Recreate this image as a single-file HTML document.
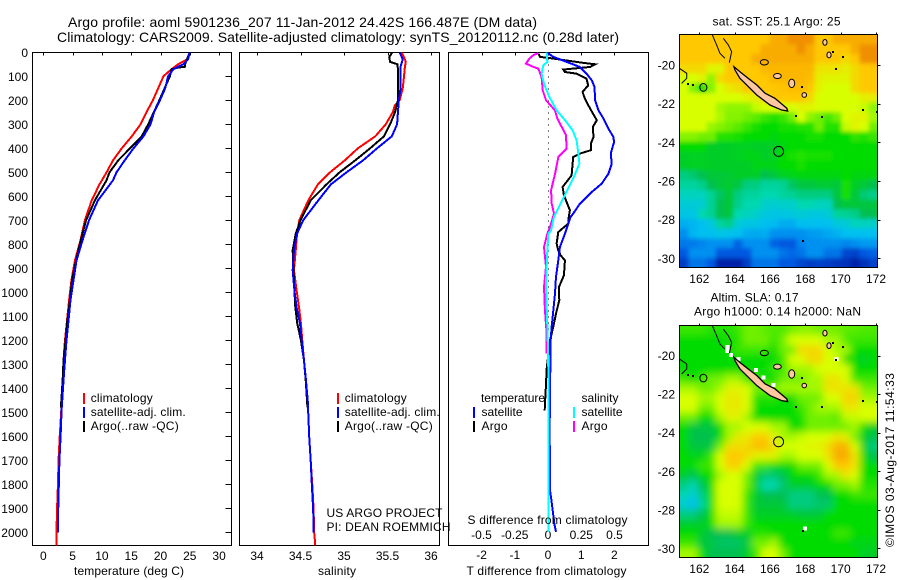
<!DOCTYPE html>
<html>
<head>
<meta charset="utf-8">
<title>Argo profile</title>
<style>
html,body{margin:0;padding:0;background:#fff;}
svg{display:block;}
text{font-family:"Liberation Sans",sans-serif;font-size:12px;fill:#000;}
</style>
</head>
<body>
<svg id="chart" xmlns="http://www.w3.org/2000/svg" width="900" height="580" viewBox="0 0 900 580">
<defs>
<filter id="sst-blur" x="-10%" y="-10%" width="120%" height="120%"><feGaussianBlur stdDeviation="2"/></filter>
<filter id="sla-blur" x="-10%" y="-10%" width="120%" height="120%"><feGaussianBlur stdDeviation="4"/></filter>
</defs>
<text class="static" x="68" y="27" style="font-size:14px" textLength="469" lengthAdjust="spacing">Argo profile: aoml 5901236_207 11-Jan-2012 24.42S 166.487E (DM data)</text>
<text class="static" x="57" y="42" style="font-size:14px" textLength="562" lengthAdjust="spacing">Climatology: CARS2009. Satellite-adjusted climatology: synTS_20120112.nc (0.28d later)</text>
<text class="static" x="74" y="575" textLength="110" lengthAdjust="spacing">temperature (deg C)</text>
<text class="static" x="318" y="575" textLength="38" lengthAdjust="spacing">salinity</text>
<text class="static" x="467.5" y="524" textLength="160" lengthAdjust="spacing">S difference from climatology</text>
<text class="static" x="466.5" y="575" textLength="160" lengthAdjust="spacing">T difference from climatology</text>
<text class="static" x="326.5" y="517" textLength="116" lengthAdjust="spacing">US ARGO PROJECT</text>
<text class="static" x="326.5" y="531" textLength="124" lengthAdjust="spacing">PI: DEAN ROEMMICH</text>
<text class="static" x="712.5" y="25.5" textLength="128" lengthAdjust="spacing">sat. SST: 25.1  Argo: 25</text>
<text class="static" x="710.5" y="301.5" textLength="88" lengthAdjust="spacing">Altim. SLA: 0.17</text>
<text class="static" x="694" y="315.5" textLength="167" lengthAdjust="spacing">Argo h1000: 0.14 h2000: NaN</text>
<text class="static" transform="translate(894 547) rotate(-90)" textLength="174" lengthAdjust="spacing">©IMOS 03-Aug-2017 11:54:33</text>
</svg>
<script>
/* ---------- profile data ---------- */
const depthTicks = [0,100,200,300,400,500,600,700,800,900,1000,1100,1200,1300,1400,1500,1600,1700,1800,1900,2000];
const tempTicks = [0,5,10,15,20,25,30];
const salTicks = [34,34.5,35,35.5,36];
const tDiffTicks = [-2,-1,0,1,2];
const sDiffTicks = [-0.5,-0.25,0,0.25,0.5];
const sDiffTickLabels = ["-0.5","-0.25","0","0.25","0.5"];

const climDepth = [0,30,50,70,100,150,200,250,300,350,400,450,500,550,617,700,783,867,950,1033,1117,1200,1283,1367,1500,1600,1700,1800,1900,2000,2054];
const climTemp = [25,24.5,23,21.9,20.5,19.6,18.7,17.6,16.6,15.1,13.4,11.9,10.8,9.6,8.25,7.1,6.35,5.4,4.8,4.4,4.05,3.7,3.45,3.3,3.05,2.8,2.6,2.5,2.35,2.25,2.25];
const satDepth = [0,30,50,70,100,150,200,250,300,350,400,450,500,533,617,700,783,867,950,1033,1117,1200,1283,1367,1500,1600,1700,1800,1900,2000];
const satTemp = [25,24.7,23.9,22.2,21.3,20.8,19.9,18.9,18.3,17.1,15.4,13.9,12.5,11.9,9.33,7.8,6.7,5.67,5.15,4.64,4.3,3.96,3.7,3.45,3.1,2.95,2.75,2.65,2.55,2.5];
const argoTempDepth = [0,30,50,60,65,70,100,200,300,350,400,450,500,533,617,700,783,867,950,1033,1117,1200,1283,1367,1480];
const argoTemp = [25,24.5,24.2,24.2,22.75,21.9,21.6,19.8,17.9,16.8,14.8,12.8,11.3,10.8,8.8,7.3,6.4,5.6,4.9,4.55,4.1,3.8,3.45,3.3,3];

const climSalDepth = [0,20,40,60,100,150,200,220,250,300,350,400,450,500,550,617,700,756,825,908,992,1062,1130,1200,1283,1367,1450,1600,1700,1800,1900,2000,2054];
const climSal = [35.66,35.69,35.71,35.7,35.69,35.675,35.64,35.586,35.56,35.48,35.36,35.16,35.01,34.84,34.7,34.59,34.486,34.46,34.445,34.425,34.455,34.483,34.505,34.52,34.54,34.563,34.583,34.6,34.617,34.635,34.65,34.657,34.67];
const satSalDepth = [0,30,60,100,150,200,250,300,350,400,450,500,550,617,700,756,825,908,992,1062,1130,1200,1283,1367,1450,1600,1700,1800,1900,2000];
const satSal = [35.64,35.675,35.65,35.65,35.65,35.63,35.62,35.61,35.55,35.38,35.22,35.03,34.85,34.705,34.53,34.46,34.425,34.41,34.43,34.455,34.494,34.514,34.54,34.563,34.583,34.6,34.617,34.63,34.645,34.652];
const argoSalDepth = [0,20,40,50,100,200,250,300,350,400,450,500,550,617,700,756,825,908,992,1062,1130,1200,1283,1367,1480];
const argoSal = [35.555,35.52,35.53,35.617,35.62,35.62,35.586,35.53,35.46,35.3,35.13,34.95,34.8,34.617,34.5,34.445,34.41,34.42,34.43,34.44,34.463,34.505,34.54,34.56,34.58];

const dtArgoDepth = [6,19,26,44,50,61,72,82,89,110,138,165,193,235,283,311,353,381,408,422,436,513,561,596,658,700,714,749,797,825,846,867,929,978,1033,1089,1144,1200,1318,1381,1492];
const dtArgo = [-0.29,-0.24,0.16,1.06,1.42,1.27,0.46,0.51,0.86,1.16,1.21,1.04,1.11,1.27,1.47,1.35,1.37,1.29,1.29,0.96,0.76,0.71,0.44,0.48,0.66,0.61,0.61,0.31,0.26,0.31,0.38,0.51,0.48,0.33,0.34,0.24,0.16,0.06,-0.04,-0.06,-0.1];
const dtSatDepth = [0,19,40,61,89,117,144,200,242,276,318,353,374,422,464,506,547,582,631,672,686,756,811,867,936,1006,1075,1144,1200,1311,1561,1825,1853,1908,1963,1998];
const dtSat = [-0.04,0.16,0.56,0.96,1.16,1.32,1.4,1.42,1.52,1.67,1.82,1.97,1.99,1.89,1.92,1.82,1.62,1.32,0.96,0.76,0.68,0.51,0.36,0.31,0.24,0.21,0.16,0.11,0.08,0.07,0.05,0.06,0.09,0.14,0.19,0.24];
const dsArgoDepth = [3,12,26,47,58,68,103,158,200,242,276,318,346,401,422,436,506,575,631,672,728,756,811,894,978,1075,1172,1256];
const dsArgo = [-0.073,-0.11,-0.14,-0.165,-0.123,-0.073,-0.048,-0.04,-0.015,0.053,0.07,0.11,0.135,0.14,0.103,0.078,0.053,0.023,0.028,0.045,0.015,-0.005,-0.03,-0.015,-0.03,-0.023,-0.01,-0.01];
const dsSatDepth = [0,40,54,89,131,186,242,283,325,367,422,464,519,575,631,686,742,756,825,894,964,1061,1172,1311,1561,1998];
const dsSat = [-0.01,-0.005,-0.035,-0.048,-0.03,0.01,0.065,0.128,0.185,0.215,0.228,0.236,0.195,0.145,0.095,0.045,0.023,0.0025,-0.005,-0.01,-0.015,-0.01,-0.003,0.002,0.002,0.002];

/* ---------- map data ---------- */
const lonTicks = [162,164,166,168,170,172];
const latTicks = [-20,-22,-24,-26,-28,-30];
const colorStops = ["#0020a8","#0058e0","#0090f0","#00c0f0","#00d8b0","#00c050","#00dc00","#70f000","#d8ff00","#ffc800","#f09000"];
const sstGrid = [
[9,9,9,9,9,9,9,9,9,9,9.5,9.5,10,10,10,9,9,9.5,9.5,9.5,9.5,9.5],
[9,9,9,9,9,9,9,9,9,9.5,9.5,9.5,9.5,10,9.5,9,9,9,9,9.5,10,10],
[9,9,9,9,9,9,9,9,9.5,9.5,9.5,9.5,9.5,9.5,9.5,9,9,9,8.7,9,10,10],
[8.7,8.7,8.7,8.2,8.2,9,9,9,9,9.3,9.3,9.3,9.3,9.3,9.3,8.5,8.5,8.5,8.3,8.7,9,9],
[8,8,8.2,7.3,8.7,9,9,9,9,9,9.3,9.3,9.3,9.3,9.2,8.3,8.2,8.2,8.2,8.7,9,9],
[8,7.2,6.3,7.2,8,8.4,8.6,9,9,9,9,9.1,9.2,9.2,9,8.2,8,8,8,8.7,9,9],
[8,8,8,8,8,8,8,8.2,8.3,8.8,9,9,9,9,8.7,8,8,8,8,8,8.3,8.3],
[8,8,8,8,7.5,7.3,7.3,7.3,7.8,8,8,8,8,8.2,8.2,8,8,8,8,8,7.8,7.3],
[8,8,8,8,7.6,7.2,7.2,7,6.8,6.5,6.3,6.5,7,8,7.3,7,6.6,7,8,8.2,8.2,7.5],
[8,8,8,7.4,7.2,7,6.8,6.5,6.2,6,6,6.2,6.2,6.3,6.3,7,6.3,6.3,7.8,8.2,8,7],
[7.2,7.2,7,7,6.3,6.3,6.2,6,6,6,5.8,6,6,6,6.2,6.2,6,6,6,6.4,6.3,6.5],
[6,6,6,5.5,5.5,5.5,5.6,5.6,5.5,5.5,5.5,5.8,6,6,6,6,6,6,6,6,6,6],
[5.5,5.6,5.6,5.5,5.5,5.5,5.6,5.7,5.7,5.5,5.6,6,6.2,6.3,6.2,6.2,6.2,6,6,6,6,6],
[5.5,5.6,5.6,5.5,5.5,5.5,5.5,5.5,5.7,5.7,5.7,6,6,6.2,6,6,6,6,6,6,6,6],
[4.5,4.7,5,5.3,5.3,5.4,5.5,5.5,5.5,5,5.3,5.6,5.7,5.8,5.8,5.8,5.8,5.8,6,5.8,5.8,5.8],
[4.2,4.2,4.4,5,5.3,5.4,5.2,4.5,4.5,4.2,4.2,4.3,4.8,5.2,5.2,5.4,5.4,5.3,6.2,5.5,5.3,5],
[3.8,3.8,3.8,4.3,4.8,5.3,4.5,4.2,4.2,4,4,4.2,4.3,4.5,4.5,4.5,4.5,5.2,6.2,5.3,4.6,4.4],
[3.4,3.4,3.5,4.3,5,5.3,4.4,4,4,3.6,3.5,3.6,3.6,4,4,3.8,3.8,5,5.3,5.3,5.2,5.2],
[3.2,3.2,4,4.3,5,5.2,4,3.8,3.6,3.3,3.2,3.2,3.3,3.4,3.3,3.3,3.4,4.2,4.3,4.4,5,5],
[2.6,2.8,3,3.3,4.2,4.4,3.4,3.2,3.2,3,2.9,2.6,2.6,3,3,3,3,3.3,3.4,3.8,3.8,3.6],
[2,2.8,3,3,3.2,3.1,3,2.6,2.5,2.6,2,2,2,2,2.2,2.3,2.5,2.7,3,3,3,3],
[1.6,1.6,1.8,2,2,2,1.2,2,2,2,1.2,1,1,1.8,2,2,2,2,1.8,2,2.2,2.2],
[1,2,2,2,1,1,1,1,2,2,2,1.5,1.3,1.5,2,2,1.5,1.5,0.7,0.6,1,1.2],
[0.5,1.5,1.5,1,0,0,0,0.5,1.5,1.5,1.5,1,1,0.7,0.5,0.6,0.5,0.4,0.3,0,0.3,0.6]
];
const slaGrid = [
[6.5,6.5,6.5,6.3,6.3,6.3,6.5,7,7,6.8,6.7,6.7,7,7.2,7.2,7,7,7,6.8,6.8,6.7,6.7],
[6,6,6,6,6,6.2,6.3,7,7,7,6.5,7,8,8,8,8,7.5,7.5,6.7,6.5,6.5,6.5],
[6,6,6,6,6,6,6.5,6.5,6.5,6.5,6,7,7,8.7,8.7,8.7,8,7.5,7.5,6,6,6],
[6,6,6,6,6,6,6,6,6,6,6,6.5,8,8,8.7,8.7,8,8,6,6,5.5,6],
[6,6,6,6,6,6,6,6,6,6,6.5,6.5,7.5,7.5,7.5,8,8,8,8,6,6,6],
[6.5,6,6.5,7,7,7.5,7.5,6.5,6.5,6,6,7,7,7,7.5,7.5,8.5,8.5,8,6.5,6.5,6.5],
[7.5,7.5,7,7,7.5,8.2,8.2,8,7,7,7,7.5,7.5,7.5,7.5,7.5,8.5,8.5,8.5,8.5,7,7],
[8,8,7.5,7.5,8,8.4,8.4,8,6.3,6.3,6.3,6,6,7,7,7,8,8,8.8,8.8,7.5,7.5],
[8,8,7,7,8,8.4,8.4,8,6,6,6,6,6,6.5,7,7.5,7.5,7.5,8.4,8.4,8,8],
[7,7,6,6,7.5,8.2,8.2,7.5,6,6,6,6,6,6.2,7,7,7,6.7,7.8,7.8,8,8],
[6,5.2,5.2,5.2,6,7.5,7.5,8,8,8,7.5,7.5,6,6,7,7,7,7,7,7.5,6,5.5],
[6,5,5,5,6,7.5,8.4,8.4,8.9,8.9,8.2,7.5,7.5,7.8,8,8,8,8.5,8.2,7,5.5,5],
[6,5.2,5.2,5.2,7,8.6,8.6,8.7,9.2,9.2,8.6,8,8,8,8.2,8.2,8.7,9.4,9.4,8,5.5,4.5],
[6,5.7,5.7,6.5,8,9,9,8.7,8.2,8.2,8.2,7.5,7.5,8,8,8,8.5,9.5,9.5,8.5,6,5],
[6,6,6.5,6.5,8,8.8,8.8,8,6.5,6.5,6,6,6,7,7,7,8,9,9,8.5,6,6],
[5.5,5,6,6,7.5,8,8,7,5.5,4.7,4.7,5,6,6,6,6.5,7.5,7.5,8.5,8,6,6],
[4.5,4,5,6,8,8,8,7,5.5,4,4,4.7,5.5,5.5,5.5,6,6,7,7,7.5,6.3,6.3],
[4,3.5,4.5,6,8,8,8,6.5,5.5,5,5,5,4.5,4.5,4.5,5,5,6,6,6.5,6.5,6.5],
[3.5,3,4.2,6,8,8,8,6.5,5.3,5.3,5.3,5.3,4.5,4.5,4.5,4.7,4.7,6,6,6,6,6],
[4.5,4.5,5,6,7.8,7.8,7.8,6.5,5.5,5.5,5.5,5.5,5.5,5.3,5.3,5.3,6,6,6,6,6,6],
[5.5,5.5,5.5,6,7.5,7.5,7.5,6.5,6,6,6,6,6,6,6,6,6,6,6,6,6,6],
[6,6,5.5,5,5,5,5.5,5.5,6.3,6.3,6,6,6,6,6,6,6,6.5,6.5,6,6,6],
[6.5,6.5,5.2,5.2,4.8,4.8,4.8,5.2,7,7,7.5,6,6,6,6,6,6,6,6,5.7,5.7,5.7],
[7.5,7.5,6,5,5,5,5,5.5,6.5,8,8,7,6,6,6,6,6,6,6,6,5.5,5.5]
];
const reefOneLon = [162.74,162.98,163.17,163.45];
const reefOneLat = [-18.45,-18.96,-19.4,-19.65];
const reefTwoLon = [163.36,163.64,163.83,163.7];
const reefTwoLat = [-18.62,-18.96,-19.31,-19.88];
const westCoastLon = [160.87,161.29,161.29,161.0];
const westCoastLat = [-20.17,-20.43,-20.69,-20.95];
const mainIslandLon = [163.96,164.3,164.77,165.25,165.72,166.28,166.95,167,166.66,166,165.25,164.68,164.3,164.02];
const mainIslandLat = [-20.09,-20.35,-20.69,-21.03,-21.46,-21.72,-22.24,-22.38,-22.33,-22.07,-21.55,-21.03,-20.69,-20.26];
const islandLon = [165.68,166.42,167.23,167.94,169.11,169.34,162.23];
const islandLat = [-19.86,-20.57,-20.95,-21.55,-18.83,-19.48,-21.16];
const islandLonRadius = [0.23,0.22,0.17,0.13,0.12,0.12,0.2];
const islandLatRadius = [0.14,0.13,0.22,0.12,0.15,0.15,0.2];
const islandFilled = [0,1,1,1,1,1,0];
const islandDotLon = [167.47,169.72,170.15,167.89,171.28,172.04,168.92,161.38,161.66,167.8,169.55];
const islandDotLat = [-22.64,-20.22,-19.57,-29.1,-22.33,-22.42,-22.68,-20.98,-21.04,-21.16,-19.34];
const missingLon = [163.59,163.59,163.79,164.21,165.21,165.62,166.19,166.38,169.77,167.98];
const missingLat = [-19.55,-19.75,-19.96,-20.17,-20.74,-21.12,-21.52,-20.57,-20.17,-28.98];
const argoLon = 166.487;
const argoLat = -24.47;

/* ---------- helpers ---------- */
const SVG_NS = "http://www.w3.org/2000/svg";
const root = document.getElementById("chart");
function make(tag, parent) {
  const el = document.createElementNS(SVG_NS, tag);
  (parent || root).appendChild(el);
  return el;
}
function rectEl(x, y, w, h, fill, parent) {
  const el = make("rect", parent);
  el.setAttribute("x", x);
  el.setAttribute("y", y);
  el.setAttribute("width", w);
  el.setAttribute("height", h);
  el.setAttribute("fill", fill);
  el.setAttribute("shape-rendering", "crispEdges");
  return el;
}
function segEl(x1, y1, x2, y2, parent) {
  const el = make("line", parent);
  el.setAttribute("x1", x1);
  el.setAttribute("y1", y1);
  el.setAttribute("x2", x2);
  el.setAttribute("y2", y2);
  el.setAttribute("stroke", "#000");
  el.setAttribute("stroke-width", "1");
  el.setAttribute("shape-rendering", "crispEdges");
  return el;
}
function textEl(str, x, y, anchor, parent) {
  const el = make("text", parent);
  el.setAttribute("x", x);
  el.setAttribute("y", y);
  el.setAttribute("text-anchor", anchor);
  el.textContent = str;
  return el;
}
function pathFrom(xs, ys) {
  return xs.map((v, i) => (i ? "L" : "M") + v.toFixed(2) + " " + ys[i].toFixed(2)).join("");
}
function hexToRgb(h) {
  return [parseInt(h.slice(1,3),16), parseInt(h.slice(3,5),16), parseInt(h.slice(5,7),16)];
}
function colorOf(v) {
  const c = Math.max(0, Math.min(colorStops.length - 1, v));
  const i = Math.min(colorStops.length - 2, Math.floor(c));
  const t = c - i;
  const a = hexToRgb(colorStops[i]);
  const b = hexToRgb(colorStops[i + 1]);
  const m = a.map((p, k) => Math.round(p + (b[k] - p) * t));
  return "rgb(" + m.join(",") + ")";
}

/* ---------- axis functions ---------- */
const plotTop = 52.5, plotBottom = 545.5;
const yDepth = d => 52.3 + d * 0.24;
const xTemp = t => 43.3 + t * 5.86;
const xSal = s => 257 + (s - 34) * 87;
const xDT = t => 548 + t * 33.2;
const xDS = s => 548 + s * 133;

/* ---------- panels ---------- */
function addPanel(name, left, right) {
  const g = make("g");
  
  
  const frame = rectEl(left, plotTop, right - left, plotBottom - plotTop, "#fff", g);
  frame.setAttribute("stroke", "#000");
  frame.setAttribute("stroke-width", "1");
  
  
  const clip = make("clipPath", g);
  clip.setAttribute("id", name + "-clip");
  rectEl(left, plotTop, right - left, plotBottom - plotTop, "#000", clip);
  return g;
}
function addSeries(g, clipName, name, color, xs, ys) {
  const p = make("path", g);
  p.setAttribute("d", pathFrom(xs, ys));
  p.setAttribute("fill", "none");
  p.setAttribute("stroke", color);
  p.setAttribute("stroke-width", "2");
  p.setAttribute("shape-rendering", "crispEdges");
  p.setAttribute("clip-path", "url(#" + clipName + "-clip)");
  
  
}
function addTopTicks(g, values, scale) {
  values.forEach(v => {
    segEl(Math.round(scale(v)) + 0.5, plotTop, Math.round(scale(v)) + 0.5, plotTop + 3, g);
  });
}
function addLegendKey(g, name, x, y, h, color) {
  const k = rectEl(x, y, 2, h, color, g);
  
  
}
function addXLabels(g, values, labels, scale, y) {
  values.forEach((v, i) => {
    const t = textEl(labels[i], scale(v), y, "middle", g);
    
    
  });
}

/* temperature panel */
const p1 = addPanel("temperature-panel", 32.5, 231.5);
addTopTicks(p1, tempTicks, xTemp);
depthTicks.forEach(d => {
  const y = Math.round(yDepth(d)) + 0.5;
  segEl(225.5, y, 231.5, y, p1);
  const t = textEl(String(d), 28, yDepth(d) + 4.5, "end", p1);
  
  
});
addXLabels(p1, tempTicks, tempTicks.map(String), xTemp, 560);
addSeries(p1, "temperature-panel", "climatology-temperature-line", "#f00", climTemp.map(xTemp), climDepth.map(yDepth));
addSeries(p1, "temperature-panel", "argo-temperature-line", "#000", argoTemp.map(xTemp), argoTempDepth.map(yDepth));
addSeries(p1, "temperature-panel", "satellite-temperature-line", "#00f", satTemp.map(xTemp), satDepth.map(yDepth));

/* salinity panel */
const p2 = addPanel("salinity-panel", 239.5, 439.5);
addTopTicks(p2, salTicks, xSal);
addXLabels(p2, salTicks, salTicks.map(String), xSal, 560);
addSeries(p2, "salinity-panel", "climatology-salinity-line", "#f00", climSal.map(xSal), climSalDepth.map(yDepth));
addSeries(p2, "salinity-panel", "argo-salinity-line", "#000", argoSal.map(xSal), argoSalDepth.map(yDepth));
addSeries(p2, "salinity-panel", "satellite-salinity-line", "#00f", satSal.map(xSal), satSalDepth.map(yDepth));

/* difference panel */
const p3 = addPanel("difference-panel", 448.5, 648.5);
addTopTicks(p3, tDiffTicks, xDT);
const zero = make("line", p3);
zero.setAttribute("x1", xDT(0) + 0.5);
zero.setAttribute("y1", plotTop);
zero.setAttribute("x2", xDT(0) + 0.5);
zero.setAttribute("y2", 330);
zero.setAttribute("stroke", "#000");
zero.setAttribute("stroke-width", "1");
zero.setAttribute("stroke-dasharray", "1 5");
zero.setAttribute("shape-rendering", "crispEdges");


addXLabels(p3, tDiffTicks, tDiffTicks.map(String), xDT, 559);
addXLabels(p3, sDiffTicks, sDiffTickLabels, xDS, 539);
addSeries(p3, "difference-panel", "argo-t-difference-line", "#000", dtArgo.map(xDT), dtArgoDepth.map(yDepth));
addSeries(p3, "difference-panel", "satellite-t-difference-line", "#00f", dtSat.map(xDT), dtSatDepth.map(yDepth));
addSeries(p3, "difference-panel", "argo-s-difference-line", "#f0f", dsArgo.map(xDS), dsArgoDepth.map(yDepth));
addSeries(p3, "difference-panel", "satellite-s-difference-line", "#0ff", dsSat.map(xDS), dsSatDepth.map(yDepth));

/* legends */
const legendLabels = ["climatology","satellite-adj. clim.","Argo(..raw -QC)"];
const legendColors = ["#f00","#00f","#000"];
const legendWidths = [62,95,88];
const legendBaselines = [402,416,430];
[[p1,83,90.7],[p2,337,344.7]].forEach(spec => {
  legendLabels.forEach((label, i) => {
    addLegendKey(spec[0], "legend-key-" + i, spec[1], legendBaselines[i] - 9, 11, legendColors[i]);
    const t = textEl(label, spec[2], legendBaselines[i], "start", spec[0]);
    t.setAttribute("textLength", legendWidths[i]);
    
    
  });
});
const diffLegendLabels = ["temperature","satellite","Argo","salinity","satellite","Argo"];
const diffLegendX = [481,481.5,481.5,581.5,581.5,581.5];
const diffLegendY = [402,416,430,402,416,430];
const diffLegendWidths = [64,41,26,37,41,26];
diffLegendLabels.forEach((label, i) => {
  const t = textEl(label, diffLegendX[i], diffLegendY[i], "start", p3);
  t.setAttribute("textLength", diffLegendWidths[i]);
  
  
});
addLegendKey(p3, "legend-key-t-satellite", 473, 407, 11, "#00f");
addLegendKey(p3, "legend-key-t-argo", 473, 421, 11, "#000");
addLegendKey(p3, "legend-key-s-satellite", 573, 407, 11, "#0ff");
addLegendKey(p3, "legend-key-s-argo", 573, 421, 11, "#f0f");

/* ---------- maps ---------- */
function addMap(name, grid, top, bottom, lat20Y, latScale, labelY, withMissing, blurId) {
  const left = 679.5, right = 877.5;
  const xLon = lon => 699.3 + (lon - 162) * 17.67;
  const yLat = lat => lat20Y + (-20 - lat) * latScale;
  const g = make("g");
  
  
  const clip = make("clipPath", g);
  clip.setAttribute("id", name + "-clip");
  rectEl(left, top, right - left, bottom - top, "#000", clip);
  const clipped = make("g", g);
  clipped.setAttribute("clip-path", "url(#" + name + "-clip)");
  
  
  const field = make("g", clipped);
  field.setAttribute("filter", "url(#" + blurId + ")");
  
  
  const cw = (right - left) / grid[0].length;
  const ch = (bottom - top) / grid.length;
  const bleed = 15;
  grid.forEach((row, r) => {
    row.forEach((v, c) => {
      const x0 = left + c * cw - (c === 0 ? bleed : 0);
      const x1 = left + (c + 1) * cw + (c === row.length - 1 ? bleed : 0) + 0.4;
      const y0 = top + r * ch - (r === 0 ? bleed : 0);
      const y1 = top + (r + 1) * ch + (r === grid.length - 1 ? bleed : 0) + 0.4;
      const cell = rectEl(x0, y0, x1 - x0, y1 - y0, colorOf(v), field);
      
      
    });
  });
  if (withMissing) {
    missingLon.forEach((lon, i) => {
      const m = rectEl(xLon(lon) - 2, yLat(missingLat[i]) - 2, 4, 4, "#fff", g);
      
      
    });
  }
  [[reefOneLon,reefOneLat],[reefTwoLon,reefTwoLat],[westCoastLon,westCoastLat]].forEach(pair => {
    const p = make("path", g);
    p.setAttribute("d", pathFrom(pair[0].map(xLon), pair[1].map(yLat)));
    p.setAttribute("fill", "none");
    p.setAttribute("stroke", "#000");
    p.setAttribute("stroke-width", "1");
    
    
  });
  const main = make("path", g);
  main.setAttribute("d", pathFrom(mainIslandLon.map(xLon), mainIslandLat.map(yLat)) + "Z");
  main.setAttribute("fill", "#ffc8a0");
  main.setAttribute("stroke", "#000");
  main.setAttribute("stroke-width", "1.3");
  
  
  islandLon.forEach((lon, i) => {
    const e = make("ellipse", g);
    e.setAttribute("cx", xLon(lon));
    e.setAttribute("cy", yLat(islandLat[i]));
    e.setAttribute("rx", islandLonRadius[i] * 17.67);
    e.setAttribute("ry", islandLatRadius[i] * latScale);
    e.setAttribute("fill", islandFilled[i] ? "#ffc8a0" : "none");
    e.setAttribute("stroke", "#000");
    e.setAttribute("stroke-width", "1");
    
    
  });
  islandDotLon.forEach((lon, i) => {
    const d = rectEl(Math.round(xLon(lon)) - 1, Math.round(yLat(islandDotLat[i])) - 1, 2, 2, "#000", g);
    
    
  });
  const marker = make("circle", g);
  marker.setAttribute("cx", xLon(argoLon));
  marker.setAttribute("cy", yLat(argoLat));
  marker.setAttribute("r", 5);
  marker.setAttribute("fill", "none");
  marker.setAttribute("stroke", "#000");
  marker.setAttribute("stroke-width", "1");
  
  
  const frame = rectEl(left, top, right - left, bottom - top, "none", g);
  frame.setAttribute("stroke", "#000");
  frame.setAttribute("stroke-width", "1");
  
  
  lonTicks.forEach(lon => {
    const x = Math.round(xLon(lon)) + 0.5;
    segEl(x, top - 2, x, top, g);
    const t = textEl(String(lon), xLon(lon), labelY, "middle", g);
    
    
  });
  latTicks.forEach(lat => {
    const y = Math.round(yLat(lat)) + 0.5;
    segEl(right, y, right + 3, y, g);
    const t = textEl(String(lat), 675, yLat(lat) + 4.5, "end", g);
    
    
  });
}
addMap("sst-map", sstGrid, 34.5, 267.5, 65, 19.33, 283, false, "sst-blur");
addMap("sla-map", slaGrid, 325.5, 557.5, 355.7, 19.26, 573, true, "sla-blur");

/* keep the static labels above the panel fills */
root.querySelectorAll("text.static").forEach(t => root.appendChild(t));
</script>
</body>
</html>
